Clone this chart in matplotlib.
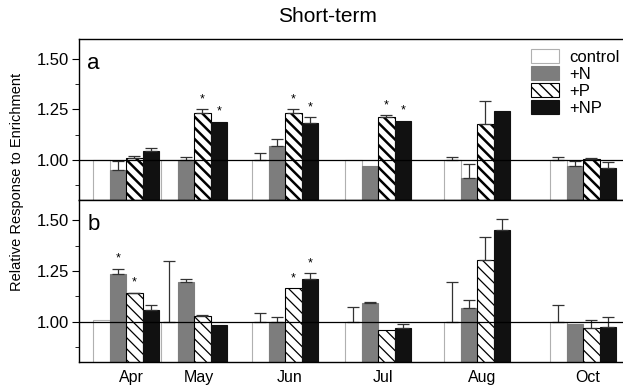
import numpy as np
import matplotlib
matplotlib.use("Agg")
import matplotlib.pyplot as plt

plt.rcParams['font.family'] = ['Liberation Sans', 'DejaVu Sans']

nan = np.nan

# months and treatments
months = ['Apr', 'May', 'Jun', 'Jul', 'Aug', 'Oct']
treatments = ['control', '+N', '+P', '+NP']

# panel a values (relative response), one list per treatment
a_control = [1.00, 1.00, 1.00, 1.00, 1.00, 1.00]
a_n = [0.95, 1.00, 1.07, 0.97, 0.91, 0.97]
a_p = [1.01, 1.23, 1.23, 1.21, 1.18, 1.005]
a_np = [1.045, 1.19, 1.185, 1.195, 1.24, 0.96]

# panel a errors (upper only, nan = none drawn)
a_control_err = [nan, nan, 0.036, nan, 0.016, 0.016]
a_n_err = [0.045, 0.016, 0.033, nan, 0.07, 0.025]
a_p_err = [0.01, 0.02, 0.02, 0.012, 0.11, 0.003]
a_np_err = [0.015, nan, 0.025, nan, nan, 0.03]

# panel b values
b_control = [1.005, 1.00, 1.00, 1.00, 1.00, 1.00]
b_n = [1.234, 1.196, 0.998, 1.089, 1.069, 0.987]
b_p = [1.139, 1.028, 1.163, 0.958, 1.305, 0.97]
b_np = [1.056, 0.982, 1.209, 0.970, 1.453, 0.975]

# panel b errors
b_control_err = [nan, 0.297, 0.041, 0.072, 0.196, 0.082]
b_n_err = [0.025, 0.013, 0.022, 0.008, 0.038, nan]
b_p_err = [0.002, 0.003, nan, nan, 0.111, 0.038]
b_np_err = [0.025, nan, 0.03, 0.017, 0.053, 0.045]

# significant differences (month index, treatment index)
a_stars = [(1, 2), (1, 3), (2, 2), (2, 3), (3, 2), (3, 3)]
b_stars = [(0, 1), (0, 2), (2, 2), (2, 3)]

# layout (group centres follow the sampling dates, not evenly spaced)
group_x = np.array([126, 194, 285, 378, 477, 583], dtype=float)
bar_w = 16.5
offsets = np.array([-1.5, -0.5, 0.5, 1.5]) * bar_w

faces = ['white', '#7d7d7d', 'white', '#111111']
edges = ['#b0b0b0', '#7d7d7d', 'black', '#111111']
hatches = [None, None, '\\\\\\', None]


def draw_panel(ax, vals, errs, stars, hatch_lw, letter):
    bars = []
    for k in range(4):
        b = ax.bar(group_x + offsets[k], vals[k], width=bar_w, color=faces[k],
                   edgecolor=edges[k], hatch=hatches[k], linewidth=0.8,
                   label=treatments[k], zorder=2)
        if hatches[k]:
            for p in b.patches:
                try:
                    p.set_hatch_linewidth(hatch_lw)
                except AttributeError:
                    pass
        bars.append(b)
        e = np.array(errs[k])
        ok = ~np.isnan(e)
        ax.errorbar((group_x + offsets[k])[ok], np.array(vals[k])[ok],
                    yerr=[np.zeros(ok.sum()), e[ok]], fmt='none',
                    ecolor='#333333', elinewidth=0.9, capsize=4, capthick=0.9,
                    zorder=3)
    for m, k in stars:
        top = vals[k][m] + (0 if np.isnan(errs[k][m]) else errs[k][m])
        ax.text(group_x[m] + offsets[k], top + 0.05, '*', ha='center',
                va='center', fontsize=9)
    ax.axhline(1.0, color='black', lw=0.9, zorder=4)
    ax.set_xlim(79, 623)
    ax.set_ylim(0.8, 1.6)
    ax.set_yticks([1.0, 1.25, 1.5])
    ax.set_yticklabels(['1.00', '1.25', '1.50'])
    ax.set_yticks([0.875, 1.125, 1.375], minor=True)
    ax.tick_params(axis='y', which='major', length=5, labelsize=12, pad=2)
    ax.tick_params(axis='y', which='minor', length=3)
    ax.spines['right'].set_visible(False)
    for s in ['left', 'top', 'bottom']:
        ax.spines[s].set_linewidth(1.0)
    ax.text(0.015, 0.85, letter, transform=ax.transAxes, fontsize=16,
            va='center', ha='left')
    return bars


fig = plt.figure(figsize=(6.23, 3.88), dpi=100)
ax_a = fig.add_axes([79 / 623, 1 - 200 / 388, 544 / 623, 161 / 388])
ax_b = fig.add_axes([79 / 623, 1 - 362 / 388, 544 / 623, 162 / 388])

bars_a = draw_panel(ax_a, [a_control, a_n, a_p, a_np],
                    [a_control_err, a_n_err, a_p_err, a_np_err], a_stars, 1.8, 'a')
draw_panel(ax_b, [b_control, b_n, b_p, b_np],
           [b_control_err, b_n_err, b_p_err, b_np_err], b_stars, 0.9, 'b')

ax_a.set_xticks([])
ax_b.set_xticks(group_x + 5)
ax_b.set_xticklabels(months, fontsize=11.5)
ax_b.tick_params(axis='x', length=0, pad=6)

ax_a.legend(handles=bars_a, loc='upper right', bbox_to_anchor=(1.012, 1.0),
            frameon=False, fontsize=12, handlelength=1.7, handleheight=0.9,
            labelspacing=0.08, handletextpad=0.6, borderaxespad=0.2)

fig.text(327 / 623, 1 - 17 / 388, 'Short-term', ha='center', va='center',
         fontsize=15)
fig.text(17 / 623, 1 - 182 / 388, 'Relative Response to Enrichment',
         rotation=90, ha='center', va='center', fontsize=10.5)

fig.savefig('out.png', dpi=100)
